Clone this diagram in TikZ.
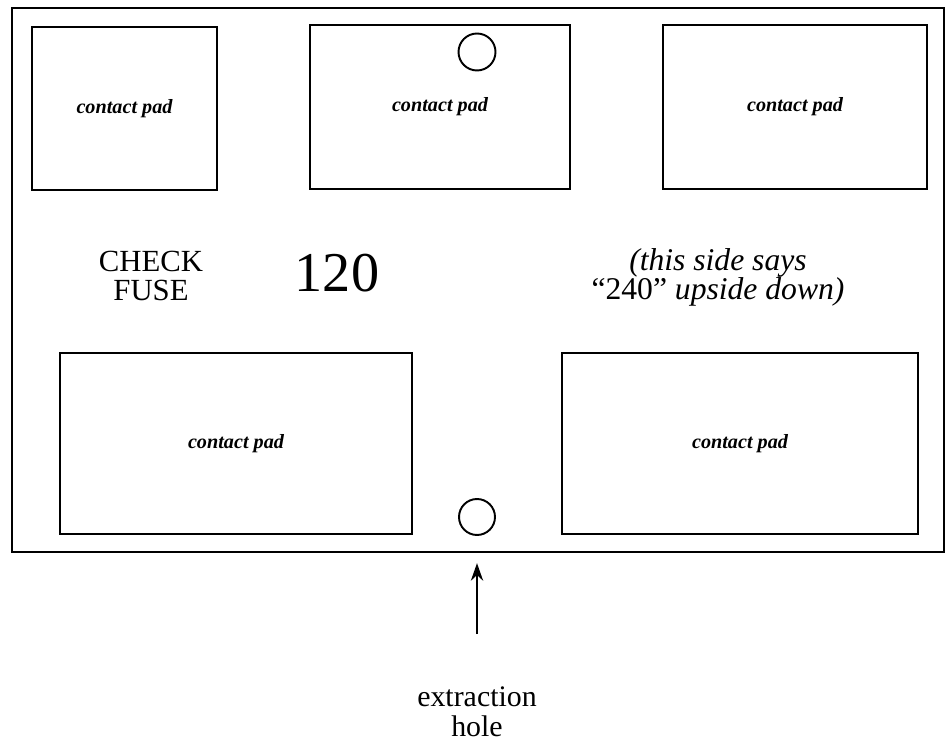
\documentclass[tikz,border=0pt]{standalone}
\usepackage{fontspec}
\setmainfont{Liberation Serif}
\usepackage{tikz}
\usetikzlibrary{arrows.meta,calc,positioning}
\tikzset{
  fuseBody/.style={draw, line width=1.4pt, minimum width=18.64cm, minimum height=10.88cm, inner sep=0pt},
  fusePad/.style={draw, line width=1.1pt, inner sep=0pt, font=\fontsize{11.5}{13}\selectfont\bfseries\itshape},
  fuseHole/.style={draw, circle, line width=1.1pt, inner sep=0pt},
  fuseLabel/.style={align=center, font=\fontsize{17.5}{16.5}\selectfont, inner sep=0pt},
  fuseArrow/.style={-{Stealth[length=10pt, width=7pt]}, line width=1.1pt}
}
\begin{document}
\begin{tikzpicture}[x=0.02cm, y=-0.02cm,
        side/.style={fuseLabel, font=\fontsize{18}{16.5}\selectfont\itshape},
        >=Stealth
      ]
      \useasboundingbox (0,0) rectangle (949,742);
      \node[fuseBody] (fuse) at (478,280) {};
      \node[fusePad, minimum width=3.70cm, minimum height=3.26cm] (padTL) at (124.5,108.5) {contact pad};
      \node[fusePad, minimum width=5.20cm, minimum height=3.28cm] (padTM) at (440,107) {contact pad};
      \node[fusePad, minimum width=5.28cm, minimum height=3.28cm] (padTR) at (795,107) {contact pad};
      \node[fusePad, minimum width=7.04cm, minimum height=3.62cm] (padBL) at (236,443.5) {contact pad};
      \node[fusePad, minimum width=7.12cm, minimum height=3.62cm] (padBR) at (740,443.5) {contact pad};
      \node[fuseHole, minimum size=0.74cm] (holeTop) at (477,52) {};
      \node[fuseHole, minimum size=0.72cm] (holeBot) at (477,517) {};

      \node[fuseLabel] (check) at (151,276) {CHECK\\FUSE};
      \node[fuseLabel, font=\fontsize{32}{32}\selectfont] (volts) at (337,273) {120};
      \node[side] (otherside) at (718,277) {(this side says\\{\upshape``240''} upside down)};

      \node[fuseLabel, font=\fontsize{17}{17}\selectfont] (extract) at (477,712) {extraction\\hole};
      \coordinate (tail) at (477,634);
      \draw[fuseArrow] (tail) -- ($(tail |- fuse.south)+(0,10)$);
    \end{tikzpicture}
\end{document}
